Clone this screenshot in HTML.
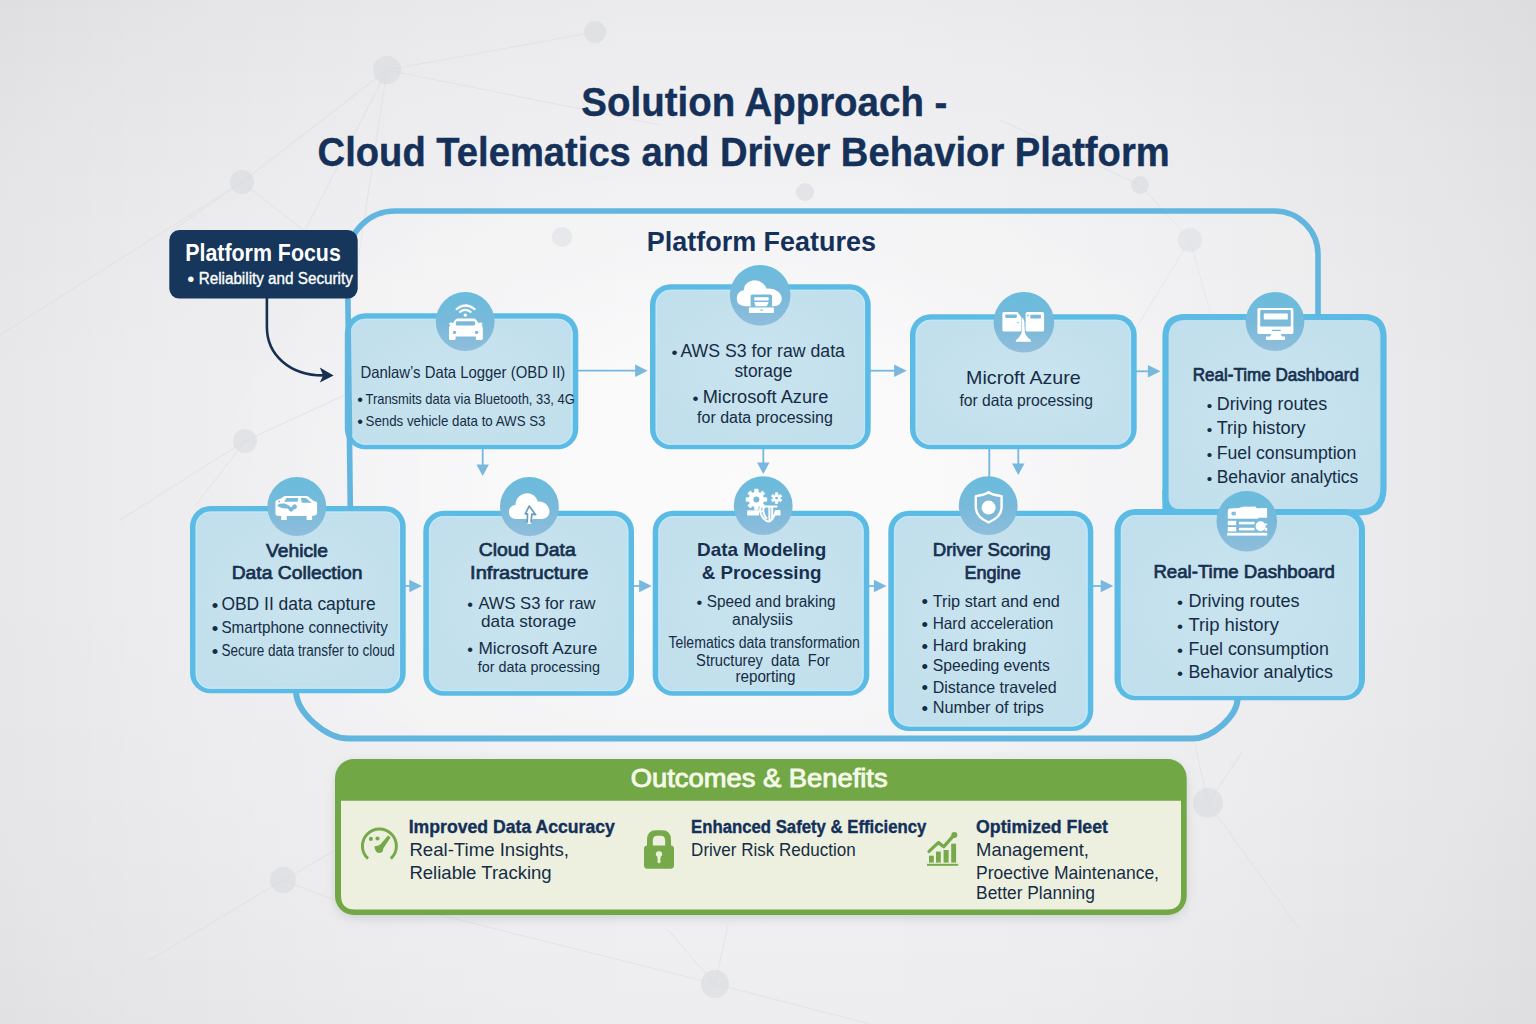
<!DOCTYPE html>
<html lang="en">
<head>
<meta charset="utf-8">
<title>Solution Approach - Cloud Telematics and Driver Behavior Platform</title>
<style>
html,body{margin:0;padding:0;background:#eceef0;}
body{width:1536px;height:1024px;overflow:hidden;position:relative;}
svg{position:absolute;left:0;top:0;display:block;}
text{font-family:"Liberation Sans",sans-serif;}
</style>
</head>
<body>
<svg width="1536" height="1024" viewBox="0 0 1536 1024">
<defs>
<linearGradient id="bgh" x1="0" y1="0" x2="1" y2="0"><stop offset="0.000" stop-color="#000" stop-opacity="0.0500"/><stop offset="0.042" stop-color="#000" stop-opacity="0.0420"/><stop offset="0.083" stop-color="#000" stop-opacity="0.0347"/><stop offset="0.125" stop-color="#000" stop-opacity="0.0281"/><stop offset="0.167" stop-color="#000" stop-opacity="0.0222"/><stop offset="0.208" stop-color="#000" stop-opacity="0.0170"/><stop offset="0.250" stop-color="#000" stop-opacity="0.0125"/><stop offset="0.292" stop-color="#000" stop-opacity="0.0087"/><stop offset="0.333" stop-color="#000" stop-opacity="0.0056"/><stop offset="0.375" stop-color="#000" stop-opacity="0.0031"/><stop offset="0.417" stop-color="#000" stop-opacity="0.0014"/><stop offset="0.458" stop-color="#000" stop-opacity="0.0003"/><stop offset="0.500" stop-color="#000" stop-opacity="0.0000"/><stop offset="0.542" stop-color="#000" stop-opacity="0.0004"/><stop offset="0.583" stop-color="#000" stop-opacity="0.0017"/><stop offset="0.625" stop-color="#000" stop-opacity="0.0039"/><stop offset="0.667" stop-color="#000" stop-opacity="0.0069"/><stop offset="0.708" stop-color="#000" stop-opacity="0.0108"/><stop offset="0.750" stop-color="#000" stop-opacity="0.0155"/><stop offset="0.792" stop-color="#000" stop-opacity="0.0211"/><stop offset="0.833" stop-color="#000" stop-opacity="0.0276"/><stop offset="0.875" stop-color="#000" stop-opacity="0.0349"/><stop offset="0.917" stop-color="#000" stop-opacity="0.0431"/><stop offset="0.958" stop-color="#000" stop-opacity="0.0521"/><stop offset="1.000" stop-color="#000" stop-opacity="0.0620"/></linearGradient>
<linearGradient id="bgv" x1="0" y1="0" x2="0" y2="1"><stop offset="0.000" stop-color="#000" stop-opacity="0.0380"/><stop offset="0.042" stop-color="#000" stop-opacity="0.0314"/><stop offset="0.083" stop-color="#000" stop-opacity="0.0255"/><stop offset="0.125" stop-color="#000" stop-opacity="0.0201"/><stop offset="0.167" stop-color="#000" stop-opacity="0.0154"/><stop offset="0.208" stop-color="#000" stop-opacity="0.0113"/><stop offset="0.250" stop-color="#000" stop-opacity="0.0079"/><stop offset="0.292" stop-color="#000" stop-opacity="0.0050"/><stop offset="0.333" stop-color="#000" stop-opacity="0.0028"/><stop offset="0.375" stop-color="#000" stop-opacity="0.0013"/><stop offset="0.417" stop-color="#000" stop-opacity="0.0003"/><stop offset="0.458" stop-color="#000" stop-opacity="0.0000"/><stop offset="0.500" stop-color="#000" stop-opacity="0.0002"/><stop offset="0.542" stop-color="#000" stop-opacity="0.0007"/><stop offset="0.583" stop-color="#000" stop-opacity="0.0016"/><stop offset="0.625" stop-color="#000" stop-opacity="0.0028"/><stop offset="0.667" stop-color="#000" stop-opacity="0.0044"/><stop offset="0.708" stop-color="#000" stop-opacity="0.0064"/><stop offset="0.750" stop-color="#000" stop-opacity="0.0087"/><stop offset="0.792" stop-color="#000" stop-opacity="0.0113"/><stop offset="0.833" stop-color="#000" stop-opacity="0.0144"/><stop offset="0.875" stop-color="#000" stop-opacity="0.0177"/><stop offset="0.917" stop-color="#000" stop-opacity="0.0215"/><stop offset="0.958" stop-color="#000" stop-opacity="0.0256"/><stop offset="1.000" stop-color="#000" stop-opacity="0.0300"/></linearGradient>
<radialGradient id="glow" cx="0.5" cy="0.5" r="0.5"><stop offset="0" stop-color="#fff" stop-opacity="0.6"/><stop offset="0.4" stop-color="#fff" stop-opacity="0.42"/><stop offset="0.75" stop-color="#fff" stop-opacity="0.12"/><stop offset="1" stop-color="#fff" stop-opacity="0"/></radialGradient>
<radialGradient id="boxfill" cx="50%" cy="50%" r="75%">
<stop offset="0" stop-color="#c9e4ef"/><stop offset="1" stop-color="#bfdeeb"/>
</radialGradient>
<linearGradient id="circ" x1="0" y1="0" x2="0" y2="1">
<stop offset="0" stop-color="#69bcdd"/><stop offset="0.55" stop-color="#7ab9da"/><stop offset="1" stop-color="#8fbedb"/>
</linearGradient>
<linearGradient id="redge" x1="0" y1="0" x2="1" y2="0"><stop offset="0" stop-color="#000" stop-opacity="0"/><stop offset="1" stop-color="#000" stop-opacity="0.018"/></linearGradient>
<filter id="blur6" x="-20%" y="-20%" width="140%" height="140%"><feGaussianBlur stdDeviation="6"/></filter>
<filter id="blur30" x="-20%" y="-20%" width="140%" height="140%"><feGaussianBlur stdDeviation="30"/></filter>
</defs>
<rect width="1536" height="1024" fill="#f4f4f6"/>
<rect width="1536" height="1024" fill="url(#bgh)"/>
<rect width="1536" height="1024" fill="url(#bgv)"/>
<ellipse cx="730" cy="485" rx="540" ry="340" fill="url(#glow)"/>

<g stroke="#dcdee2" stroke-width="1.1" fill="none" opacity="0.6">
<path d="M387,70 L595,32"/>
<path d="M387,70 L242,182"/>
<path d="M387,70 L300,240"/>
<path d="M387,70 L352,300"/>
<path d="M387,70 L660,125"/>
<path d="M242,182 L0,335"/>
<path d="M242,182 L335,255"/>
<path d="M242,182 L170,232"/>
<path d="M245,441 L345,395"/>
<path d="M245,441 L196,505"/>
<path d="M245,441 L120,520"/>
<path d="M283,880 L336,850"/>
<path d="M283,880 L340,902"/>
<path d="M283,880 L150,960"/>
<path d="M715,984 L440,915"/>
<path d="M715,984 L728,925"/>
<path d="M715,984 L668,930"/>
<path d="M715,984 L870,1024"/>
<path d="M1208,803 L1195,745"/>
<path d="M1208,803 L1242,752"/>
<path d="M1208,803 L1300,930"/>
<path d="M1190,240 L1135,330"/>
<path d="M1190,240 L1215,330"/>
<path d="M1190,240 L1140,185"/>
<path d="M1140,185 L1000,120"/>
</g>
<g fill="#d9dbdf">
<circle cx="387" cy="70" r="14" opacity="0.6"/>
<circle cx="595" cy="32" r="11" opacity="0.6"/>
<circle cx="242" cy="182" r="12" opacity="0.6"/>
<circle cx="245" cy="441" r="12" opacity="0.6"/>
<circle cx="283" cy="880" r="13" opacity="0.6"/>
<circle cx="715" cy="984" r="14" opacity="0.6"/>
<circle cx="1208" cy="803" r="15" opacity="0.6"/>
<circle cx="1190" cy="240" r="12" opacity="0.6"/>
<circle cx="1140" cy="185" r="9" opacity="0.6"/>
<circle cx="562" cy="237" r="10" opacity="0.6"/>
<circle cx="805" cy="192" r="9" opacity="0.6"/>
</g>
<path d="M350,252 Q350,211 391,211 H1273 Q1318,211 1318,256 V600 H1237 V697 Q1237,738.5 1185,738.5 H349 Q297,738.5 297,690 H350 Z" fill="#ffffff" opacity="0.15"/>
<path d="M578.0,370.7 H636.1" stroke="#78b8de" stroke-width="1.8" fill="none"/>
<path d="M647.7,370.7 L635.1,364.4 L635.1,377.0 Z" fill="#78b8de"/>
<path d="M870.0,370.7 H895.1" stroke="#78b8de" stroke-width="1.8" fill="none"/>
<path d="M906.7,370.7 L894.1,364.4 L894.1,377.0 Z" fill="#78b8de"/>
<path d="M1135.0,371.3 H1148.9" stroke="#78b8de" stroke-width="1.8" fill="none"/>
<path d="M1160.5,371.3 L1147.9,365.0 L1147.9,377.6 Z" fill="#78b8de"/>
<path d="M482.7,448.0 V465.5" stroke="#78b8de" stroke-width="1.8" fill="none"/>
<path d="M482.7,476.0 L476.5,464.5 L488.9,464.5 Z" fill="#78b8de"/>
<path d="M763.3,448.0 V463.5" stroke="#78b8de" stroke-width="1.8" fill="none"/>
<path d="M763.3,474.0 L757.1,462.5 L769.5,462.5 Z" fill="#78b8de"/>
<path d="M1018.3,448.0 V464.5" stroke="#78b8de" stroke-width="1.8" fill="none"/>
<path d="M1018.3,475.0 L1012.1,463.5 L1024.5,463.5 Z" fill="#78b8de"/>
<path d="M989.3,448 V480" stroke="#78b8de" stroke-width="1.9" fill="none"/>
<path d="M405.0,586.0 H410.3" stroke="#78b8de" stroke-width="1.8" fill="none"/>
<path d="M421.9,586.0 L409.3,579.7 L409.3,592.3 Z" fill="#78b8de"/>
<path d="M633.0,586.0 H640.1" stroke="#78b8de" stroke-width="1.8" fill="none"/>
<path d="M651.7,586.0 L639.1,579.7 L639.1,592.3 Z" fill="#78b8de"/>
<path d="M868.0,586.0 H874.9" stroke="#78b8de" stroke-width="1.8" fill="none"/>
<path d="M886.5,586.0 L873.9,579.7 L873.9,592.3 Z" fill="#78b8de"/>
<path d="M1092.0,586.0 H1101.7" stroke="#78b8de" stroke-width="1.8" fill="none"/>
<path d="M1113.3,586.0 L1100.7,579.7 L1100.7,592.3 Z" fill="#78b8de"/>
<rect x="344.8" y="313.3" width="233.5" height="136.0" rx="20.5" fill="#5cbbe4"/>
<rect x="350.5" y="318.8" width="222.1" height="125.9" rx="15.0" fill="url(#boxfill)"/>
<rect x="351.1" y="319.4" width="220.9" height="124.7" rx="14.4" fill="none" stroke="#c0eafa" stroke-width="1.4" opacity="0.85"/>
<rect x="650.0" y="284.3" width="220.7" height="165.0" rx="20.5" fill="#5cbbe4"/>
<rect x="655.7" y="289.8" width="209.3" height="154.9" rx="15.0" fill="url(#boxfill)"/>
<rect x="656.3" y="290.4" width="208.1" height="153.7" rx="14.4" fill="none" stroke="#c0eafa" stroke-width="1.4" opacity="0.85"/>
<rect x="910.0" y="314.3" width="226.7" height="135.0" rx="20.5" fill="#5cbbe4"/>
<rect x="915.7" y="319.8" width="215.3" height="124.9" rx="15.0" fill="url(#boxfill)"/>
<rect x="916.3" y="320.4" width="214.1" height="123.7" rx="14.4" fill="none" stroke="#c0eafa" stroke-width="1.4" opacity="0.85"/>
<rect x="1162.4" y="490" width="20" height="24.8" fill="#5cbbe4"/>
<path d="M1165.5,495 V337 Q1165.5,317 1185.5,317 H1363.5 Q1383.5,317 1383.5,337 V488 Q1383.5,512.3 1359,512.3 H1180.5 Q1165.5,512.3 1165.5,497 Z" fill="url(#boxfill)" stroke="#5cbbe4" stroke-width="6.2"/>
<rect x="190.0" y="506.0" width="215.7" height="187.3" rx="20.5" fill="#5cbbe4"/>
<rect x="195.7" y="511.5" width="204.3" height="177.2" rx="15.0" fill="url(#boxfill)"/>
<rect x="196.3" y="512.1" width="203.1" height="176.0" rx="14.4" fill="none" stroke="#c0eafa" stroke-width="1.4" opacity="0.85"/>
<rect x="423.3" y="510.7" width="210.7" height="185.0" rx="20.5" fill="#5cbbe4"/>
<rect x="429.0" y="516.2" width="199.3" height="174.9" rx="15.0" fill="url(#boxfill)"/>
<rect x="429.6" y="516.8" width="198.1" height="173.7" rx="14.4" fill="none" stroke="#c0eafa" stroke-width="1.4" opacity="0.85"/>
<rect x="652.7" y="510.7" width="216.6" height="185.0" rx="20.5" fill="#5cbbe4"/>
<rect x="658.4" y="516.2" width="205.2" height="174.9" rx="15.0" fill="url(#boxfill)"/>
<rect x="659.0" y="516.8" width="204.0" height="173.7" rx="14.4" fill="none" stroke="#c0eafa" stroke-width="1.4" opacity="0.85"/>
<rect x="888.3" y="510.7" width="205.0" height="220.3" rx="20.5" fill="#5cbbe4"/>
<rect x="894.0" y="516.2" width="193.6" height="210.2" rx="15.0" fill="url(#boxfill)"/>
<rect x="894.6" y="516.8" width="192.4" height="209.0" rx="14.4" fill="none" stroke="#c0eafa" stroke-width="1.4" opacity="0.85"/>
<rect x="1114.5" y="509.0" width="250.5" height="191.3" rx="21.0" fill="#5cbbe4"/>
<rect x="1120.9" y="515.2" width="237.7" height="180.5" rx="14.8" fill="url(#boxfill)"/>
<rect x="1121.5" y="515.8" width="236.5" height="179.3" rx="14.2" fill="none" stroke="#c0eafa" stroke-width="1.4" opacity="0.85"/>
<path d="M350.3,509 L347.9,300 V258 A47,47 0 0 1 394.9,211 H1274.5 A43.5,43.5 0 0 1 1318,254.5 V317" fill="none" stroke="#62b5df" stroke-width="5.6"/>
<path d="M296,690.5 C296.0,712.1 325.1,738.6 349.0,738.6 H1192 C1212.6,738.6 1237.7,716.0 1237.7,697.5" fill="none" stroke="#62b5df" stroke-width="6"/>
<circle cx="465.2" cy="321.5" r="29.4" fill="url(#circ)"/>
<circle cx="760.2" cy="295.2" r="30.3" fill="url(#circ)"/>
<circle cx="1023.9" cy="322.2" r="30.3" fill="url(#circ)"/>
<circle cx="1275.0" cy="321.5" r="29.4" fill="url(#circ)"/>
<circle cx="296.8" cy="506.5" r="29.4" fill="url(#circ)"/>
<circle cx="529.4" cy="506.5" r="29.4" fill="url(#circ)"/>
<circle cx="763.2" cy="505.7" r="29.4" fill="url(#circ)"/>
<circle cx="988.2" cy="505.7" r="29.4" fill="url(#circ)"/>
<circle cx="1246.8" cy="521.2" r="30.3" fill="url(#circ)"/>
<g transform="translate(465.2,321.5)"><path d="M-7.5,-2.9 H8.5 Q10.5,-2.9 11.3,-1.2 L13.2,1.6 L15.2,0.9 Q17.4,0.8 17.4,2.4 L16.2,3.6 Q17.6,4.6 17.6,6.5 V17 Q17.6,18.6 16,18.6 H12.2 Q10.6,18.6 10.6,17 V15 H-9.6 V17 Q-9.6,18.6 -11.2,18.6 H-14.6 Q-16.2,18.6 -16.2,17 V6.5 Q-16.2,4.6 -14.8,3.6 L-16.2,2.4 Q-16.4,0.8 -14.2,0.9 L-12.2,1.6 L-10.3,-1.2 Q-9.5,-2.9 -7.5,-2.9 Z" fill="#ffffff"/><rect x="-9.3" y="-0.2" width="19.1" height="4.3" rx="1.3" fill="#7ab9da"/><circle cx="-10.7" cy="10.9" r="1.7" fill="#7ab9da"/><circle cx="11.4" cy="10.9" r="1.7" fill="#7ab9da"/><circle cx="0.1" cy="-6.4" r="1.7" fill="#ffffff"/><path d="M-5.2,-9.6 Q0.1,-13.6 5.4,-9.6" stroke="#ffffff" stroke-width="2.1" fill="none" stroke-linecap="round"/><path d="M-8.6,-12.4 Q0.3,-19.6 9.4,-12.4" stroke="#ffffff" stroke-width="2.2" fill="none" stroke-linecap="round"/></g>
<g transform="translate(296.8,506.5)"><path d="M-21.4,-4.6 Q-21.4,-6 -19.8,-6.6 L-15.5,-8.2 L-12.4,-10.4 H10.6 L16.5,-5.8 L19.2,-5 Q20.3,-4.6 20.3,-3.2 V6.6 Q20.3,8.6 18.3,8.9 L15.3,9.2 V13.6 H9.8 V9.6 H-10.1 V13.6 H-15.6 V9.6 L-19.6,9.2 Q-21.4,8.8 -21.4,7 Z" fill="#ffffff"/><path d="M-12.8,-4.7 L-10.3,-8.4 H1.6 L0.8,-4.7 Z" fill="#7ab9da"/><path d="M4,-8.4 H9 L14.9,-3.8 H5.1 Z" fill="#7ab9da"/><circle cx="-17.6" cy="-5" r="0.9" fill="#7ab9da"/><path d="M-19.2,-1.6 Q-17,-3.4 -12,-2.9 Q-8,-1.6 -5.5,1 Q-3.5,-3 -1,-2 Q1,-0.5 -0.5,2 Q-3,2.5 -5,5 Q-6,6 -7.5,4 L-9,2 Q-16,2.5 -19.2,-0.4 Z" fill="#7ab9da"/></g>
<g transform="translate(529.4,506.5)"><path d="M-13,12.5 Q-20.5,12.5 -20.5,5.5 Q-20.5,-0.5 -14,-1.5 Q-13.5,-9 -7.5,-12 Q-1,-15 4.5,-11 Q7.5,-8.5 8.5,-5 Q14,-5.5 17.5,-1.5 Q20.5,2 20,6 Q19,12.5 12,12.5 Z" fill="#ffffff"/><path d="M-2.6,12.4 H3.2 L1.6,17.4 H-1.9 Z" fill="#ffffff"/><path d="M-4.1,7.4 L-0.2,-0.4 L6.2,8.2 M-4.1,7.4 H-1.9 L-2.1,15.5 M6.2,8.2 L2.4,7.6 L1.7,15.5" stroke="#6a9dbc" stroke-width="1.7" fill="none" stroke-linejoin="round" stroke-linecap="round"/></g>
<g transform="translate(760.2,295.2)"><path d="M-15,11 Q-23.5,10.5 -23.5,3 Q-23.5,-3.5 -16.5,-5 Q-16,-11.5 -10,-14 Q-3,-16.5 2.5,-12 Q5.5,-9.5 6.5,-6.5 Q13,-7.5 18,-3.5 Q22,0 21.5,4.5 Q20.5,10.5 13.5,11 Z" fill="#ffffff"/><rect x="-9.6" y="-0.8" width="21.5" height="12.5" rx="1.6" fill="#7ab9da"/><rect x="-6" y="2" width="14.5" height="3.2" rx="0.6" fill="#ffffff"/><path d="M-6,6.8 H8.5 L6.5,11 H-4.5 Z" fill="#ffffff"/><rect x="-11.3" y="12.2" width="25" height="5.5" rx="0.6" fill="#ffffff"/><rect x="0" y="14.3" width="2.6" height="1.2" rx="0.6" fill="#7ab9da"/></g>
<g transform="translate(1023.9,322.2)"><path d="M-21.5,-8.5 Q-21.5,-10.2 -19.8,-10.2 H-6.5 L-2.8,-5.5 V7.8 Q-2.8,9.4 -4.4,9.4 H-19.8 Q-21.5,9.4 -21.5,7.8 Z" fill="#ffffff"/><path d="M1.7,-8.5 Q1.7,-10.2 3.4,-10.2 H18.5 Q20.2,-10.2 20.2,-8.5 V7.8 Q20.2,9.4 18.5,9.4 H3.4 Q1.7,9.4 1.7,7.8 Z" fill="#ffffff"/><rect x="-18.6" y="-7.8" width="11.5" height="3.6" rx="0.9" fill="#7ab9da"/><rect x="6.4" y="-7.4" width="10.6" height="3.8" rx="0.9" fill="#7ab9da"/><circle cx="4" cy="-6.6" r="0.9" fill="#7ab9da"/><circle cx="-6" cy="0.4" r="0.8" fill="#7ab9da"/><path d="M-2.4,-5 Q0.2,-4 0.4,-1 L0.9,9.6 Q1.6,14 6.6,17.6 L7.3,19.6 H-8.3 L-7.6,17.6 Q-3,14 -2.2,9.6 Z" fill="#ffffff"/></g>
<g transform="translate(1275.0,321.5)"><rect x="-17.6" y="-13.4" width="36" height="26" rx="1.6" fill="#ffffff"/><rect x="-14.8" y="-11.4" width="30.6" height="16.4" rx="0.8" fill="#7ab9da"/><rect x="-11.2" y="-7.9" width="24" height="5.8" rx="0.5" fill="#ffffff"/><rect x="-3.2" y="8.2" width="9" height="1.4" rx="0.6" fill="#7ab9da"/><path d="M-3.5,12 H5.5 L7,15 H10 V18.6 H-9 V15 H-5 Z" fill="#ffffff"/></g>
<g transform="translate(763.2,505.7)"><path d="M-8.6,-13.4 L-8.5,-16.5 L-5.1,-16.5 L-5.0,-13.4 L-3.0,-12.5 L-0.8,-14.7 L1.7,-12.2 L-0.5,-10.0 L0.4,-8.0 L3.5,-7.9 L3.5,-4.5 L0.4,-4.4 L-0.5,-2.4 L1.7,-0.2 L-0.8,2.3 L-3.0,0.1 L-5.0,1.0 L-5.1,4.1 L-8.5,4.1 L-8.6,1.0 L-10.6,0.1 L-12.8,2.3 L-15.3,-0.2 L-13.1,-2.4 L-14.0,-4.4 L-17.1,-4.5 L-17.1,-7.9 L-14.0,-8.0 L-13.1,-10.0 L-15.3,-12.2 L-12.8,-14.7 L-10.6,-12.5 Z" fill="#ffffff" stroke="#ffffff" stroke-width="0.8" stroke-linejoin="round"/><circle cx="-6.8" cy="-6.2" r="3.0" fill="#7ab9da"/><path d="M12.3,-10.9 L12.2,-12.9 L14.6,-12.9 L14.5,-10.9 L15.7,-10.2 L17.4,-11.3 L18.6,-9.2 L16.8,-8.3 L16.8,-6.9 L18.6,-6.0 L17.4,-3.9 L15.7,-5.0 L14.5,-4.3 L14.6,-2.3 L12.2,-2.3 L12.3,-4.3 L11.1,-5.0 L9.4,-3.9 L8.2,-6.0 L10.0,-6.9 L10.0,-8.3 L8.2,-9.2 L9.4,-11.3 L11.1,-10.2 Z" fill="#ffffff" stroke="#ffffff" stroke-width="0.8" stroke-linejoin="round"/><circle cx="13.4" cy="-7.6" r="1.4" fill="#7ab9da"/><rect x="-16" y="4.6" width="11.8" height="5.2" fill="#ffffff"/><path d="M-4,5.5 H0" stroke="#ffffff" stroke-width="1.6"/><path d="M-2.5,1 Q-4.5,8 1,13.5 Q5.5,18.5 9.5,13 Q12,9 12.5,5.2 H16.5 M13.5,0.8 H3 Q-0.5,1 0.2,6 Q1,10 3.2,12.6 M6.2,1 V14 M9,1 V12.6" stroke="#ffffff" stroke-width="2" fill="none" stroke-linecap="round" stroke-linejoin="round"/><path d="M12,6.2 H17.3 V9.8 H11 Z" fill="#ffffff"/></g>
<g transform="translate(988.2,505.7)"><path d="M0.4,-13.6 Q2.5,-11.2 13.4,-9.6 V2 Q13,11.5 0.4,16.6 Q-12,11.5 -12.4,2 V-9.6 Q-2,-11.2 0.4,-13.6 Z" fill="#7fb9d9" stroke="#ffffff" stroke-width="2.4" stroke-linejoin="round"/><circle cx="0.4" cy="1.9" r="7" fill="#ffffff"/></g>
<g transform="translate(1246.8,521.2)"><path d="M-19,-10.5 Q-19,-12.6 -17,-12.8 L-8,-13.2 Q-4,-15.5 2,-14.5 L8.5,-14.6 L10,-13 L20.3,-13.2 V-3.5 L12,-3.4 L11,-2.4 H-19 Z" fill="#ffffff"/><path d="M-11,-8.6 H-14 Q-15.5,-7.8 -14,-6.7 H-11" stroke="#7ab9da" stroke-width="1.6" fill="none"/><rect x="-19" y="-0.4" width="8.4" height="4.4" fill="#ffffff"/><rect x="-19" y="5.8" width="8.4" height="4.4" fill="#ffffff"/><rect x="-7.8" y="0.6" width="15.6" height="2.6" fill="#ffffff"/><rect x="-7.8" y="6.6" width="15.6" height="2.6" fill="#ffffff"/><circle cx="13.8" cy="5" r="5" fill="#ffffff"/><rect x="18" y="2.4" width="2.4" height="1.6" fill="#ffffff"/><rect x="18" y="6.6" width="2.4" height="3" fill="#ffffff"/><rect x="-19.6" y="11.6" width="40" height="2.8" fill="#ffffff"/></g>
<rect x="169.3" y="230" width="188.4" height="68.6" rx="10" fill="#16365b"/>
<path d="M266.9,297 V327 C266.9,355 290,375.4 323,375.4" fill="none" stroke="#162f52" stroke-width="2.6"/>
<path d="M333.6,375.4 L319.8,367.4 L323.2,375.4 L319.8,382.6 Z" fill="#162f52"/>
<text x="185.2" y="260.7" font-size="23" font-weight="bold" fill="#ffffff" textLength="155.6" lengthAdjust="spacingAndGlyphs">Platform Focus</text>
<text x="187.2" y="286.3" font-size="20.2" fill="#ffffff">•</text>
<text x="198.7" y="284.0" font-size="16" font-weight="normal" fill="#ffffff" textLength="154.1" lengthAdjust="spacingAndGlyphs" stroke="#ffffff" stroke-width="0.35">Reliability and Security</text>
<text x="581.3" y="115.7" font-size="40" font-weight="bold" fill="#15315a" textLength="366.1" lengthAdjust="spacingAndGlyphs" stroke="#15315a" stroke-width="0.4">Solution Approach -</text>
<text x="317.6" y="165.7" font-size="40" font-weight="bold" fill="#15315a" textLength="852.1" lengthAdjust="spacingAndGlyphs" stroke="#15315a" stroke-width="0.4">Cloud Telematics and Driver Behavior Platform</text>
<text x="646.8" y="251.0" font-size="27" font-weight="bold" fill="#15315a" textLength="229.2" lengthAdjust="spacingAndGlyphs">Platform Features</text>
<text x="360.4" y="377.7" font-size="16.5" font-weight="normal" fill="#162c45" textLength="204.9" lengthAdjust="spacingAndGlyphs">Danlaw’s Data Logger (OBD II)</text>
<text x="357.2" y="405.1" font-size="16.3" fill="#162c45">•</text>
<text x="365.5" y="404.3" font-size="15" font-weight="normal" fill="#162c45" textLength="209.3" lengthAdjust="spacingAndGlyphs">Transmits data via Bluetooth, 33, 4G</text>
<text x="357.2" y="426.8" font-size="16.3" fill="#162c45">•</text>
<text x="365.5" y="426.0" font-size="15" font-weight="normal" fill="#162c45" textLength="180.0" lengthAdjust="spacingAndGlyphs">Sends vehicle data to AWS S3</text>
<text x="671.4" y="357.8" font-size="17.1" fill="#162c45">•</text>
<text x="680.4" y="356.7" font-size="17.5" font-weight="normal" fill="#162c45" textLength="164.5" lengthAdjust="spacingAndGlyphs">AWS S3 for raw data</text>
<text x="734.4" y="376.7" font-size="17.5" font-weight="normal" fill="#162c45" textLength="57.9" lengthAdjust="spacingAndGlyphs">storage</text>
<text x="692.4" y="404.1" font-size="17.1" fill="#162c45">•</text>
<text x="702.7" y="403.0" font-size="17.5" font-weight="normal" fill="#162c45" textLength="125.6" lengthAdjust="spacingAndGlyphs">Microsoft Azure</text>
<text x="697.1" y="422.7" font-size="16" font-weight="normal" fill="#162c45" textLength="135.7" lengthAdjust="spacingAndGlyphs">for data processing</text>
<text x="966.1" y="384.0" font-size="18.5" font-weight="normal" fill="#162c45" textLength="114.6" lengthAdjust="spacingAndGlyphs">Microft Azure</text>
<text x="959.4" y="405.7" font-size="16.5" font-weight="normal" fill="#162c45" textLength="133.5" lengthAdjust="spacingAndGlyphs">for data processing</text>
<text x="1192.7" y="381.0" font-size="17.5" font-weight="normal" fill="#17304f" textLength="166.2" lengthAdjust="spacingAndGlyphs" stroke="#17304f" stroke-width="0.7">Real-Time Dashboard</text>
<text x="1206.7" y="410.5" font-size="15.5" fill="#162c45">•</text>
<text x="1216.7" y="410.0" font-size="17.5" font-weight="normal" fill="#162c45" textLength="110.6" lengthAdjust="spacingAndGlyphs">Driving routes</text>
<text x="1206.7" y="434.8" font-size="15.5" fill="#162c45">•</text>
<text x="1216.7" y="434.3" font-size="17.5" font-weight="normal" fill="#162c45" textLength="88.9" lengthAdjust="spacingAndGlyphs">Trip history</text>
<text x="1206.7" y="459.8" font-size="15.5" fill="#162c45">•</text>
<text x="1216.7" y="459.3" font-size="17.5" font-weight="normal" fill="#162c45" textLength="139.6" lengthAdjust="spacingAndGlyphs">Fuel consumption</text>
<text x="1206.7" y="483.8" font-size="15.5" fill="#162c45">•</text>
<text x="1216.7" y="483.3" font-size="17.5" font-weight="normal" fill="#162c45" textLength="141.6" lengthAdjust="spacingAndGlyphs">Behavior analytics</text>
<text x="266.1" y="556.7" font-size="18.5" font-weight="normal" fill="#17304f" textLength="61.9" lengthAdjust="spacingAndGlyphs" stroke="#17304f" stroke-width="0.7">Vehicle</text>
<text x="231.7" y="579.3" font-size="18.5" font-weight="normal" fill="#17304f" textLength="130.7" lengthAdjust="spacingAndGlyphs" stroke="#17304f" stroke-width="0.7">Data Collection</text>
<text x="211.7" y="611.7" font-size="18.6" fill="#162c45">•</text>
<text x="221.4" y="610.0" font-size="17.5" font-weight="normal" fill="#162c45" textLength="154.2" lengthAdjust="spacingAndGlyphs">OBD II data capture</text>
<text x="211.7" y="635.0" font-size="18.6" fill="#162c45">•</text>
<text x="221.4" y="633.3" font-size="17" font-weight="normal" fill="#162c45" textLength="166.5" lengthAdjust="spacingAndGlyphs">Smartphone connectivity</text>
<text x="211.7" y="657.7" font-size="18.6" fill="#162c45">•</text>
<text x="221.4" y="656.0" font-size="16" font-weight="normal" fill="#162c45" textLength="173.4" lengthAdjust="spacingAndGlyphs">Secure data transfer to cloud</text>
<text x="478.7" y="556.0" font-size="18.5" font-weight="normal" fill="#17304f" textLength="97.0" lengthAdjust="spacingAndGlyphs" stroke="#17304f" stroke-width="0.7">Cloud Data</text>
<text x="470.1" y="579.3" font-size="18.5" font-weight="normal" fill="#17304f" textLength="118.3" lengthAdjust="spacingAndGlyphs" stroke="#17304f" stroke-width="0.7">Infrastructure</text>
<text x="467.2" y="609.8" font-size="16.3" fill="#162c45">•</text>
<text x="478.4" y="609.0" font-size="17" font-weight="normal" fill="#162c45" textLength="117.2" lengthAdjust="spacingAndGlyphs">AWS S3 for raw</text>
<text x="481.1" y="626.7" font-size="17" font-weight="normal" fill="#162c45" textLength="95.2" lengthAdjust="spacingAndGlyphs">data storage</text>
<text x="467.2" y="655.1" font-size="16.3" fill="#162c45">•</text>
<text x="478.4" y="654.3" font-size="17" font-weight="normal" fill="#162c45" textLength="118.9" lengthAdjust="spacingAndGlyphs">Microsoft Azure</text>
<text x="477.8" y="671.7" font-size="15.5" font-weight="normal" fill="#162c45" textLength="122.1" lengthAdjust="spacingAndGlyphs">for data processing</text>
<text x="697.1" y="556.0" font-size="18.5" font-weight="bold" fill="#17304f" textLength="129.3" lengthAdjust="spacingAndGlyphs">Data Modeling</text>
<text x="701.7" y="579.0" font-size="18.5" font-weight="bold" fill="#17304f" textLength="119.7" lengthAdjust="spacingAndGlyphs">&amp; Processing</text>
<text x="696.4" y="607.5" font-size="16.3" fill="#162c45">•</text>
<text x="706.7" y="606.7" font-size="16" font-weight="normal" fill="#162c45" textLength="128.8" lengthAdjust="spacingAndGlyphs">Speed and braking</text>
<text x="732.1" y="625.0" font-size="16" font-weight="normal" fill="#162c45" textLength="60.7" lengthAdjust="spacingAndGlyphs">analysiis</text>
<text x="668.4" y="647.7" font-size="16" font-weight="normal" fill="#162c45" textLength="191.4" lengthAdjust="spacingAndGlyphs">Telematics data transformation</text>
<text x="696.1" y="666.0" font-size="16" font-weight="normal" fill="#162c45" textLength="133.7" lengthAdjust="spacingAndGlyphs" xml:space="preserve">Structurey  data  For</text>
<text x="735.4" y="681.7" font-size="16" font-weight="normal" fill="#162c45" textLength="60.1" lengthAdjust="spacingAndGlyphs">reporting</text>
<text x="932.7" y="556.0" font-size="18.5" font-weight="normal" fill="#17304f" textLength="118.0" lengthAdjust="spacingAndGlyphs" stroke="#17304f" stroke-width="0.7">Driver Scoring</text>
<text x="964.4" y="579.0" font-size="18.5" font-weight="normal" fill="#17304f" textLength="56.3" lengthAdjust="spacingAndGlyphs" stroke="#17304f" stroke-width="0.7">Engine</text>
<text x="921.4" y="608.4" font-size="18.6" fill="#162c45">•</text>
<text x="932.7" y="606.7" font-size="16.5" font-weight="normal" fill="#162c45" textLength="127.2" lengthAdjust="spacingAndGlyphs">Trip start and end</text>
<text x="921.4" y="631.0" font-size="18.6" fill="#162c45">•</text>
<text x="932.7" y="629.3" font-size="16.5" font-weight="normal" fill="#162c45" textLength="120.6" lengthAdjust="spacingAndGlyphs">Hard acceleration</text>
<text x="921.4" y="652.7" font-size="18.6" fill="#162c45">•</text>
<text x="932.7" y="651.0" font-size="16.5" font-weight="normal" fill="#162c45" textLength="93.6" lengthAdjust="spacingAndGlyphs">Hard braking</text>
<text x="921.4" y="672.7" font-size="18.6" fill="#162c45">•</text>
<text x="932.7" y="671.0" font-size="16.5" font-weight="normal" fill="#162c45" textLength="117.2" lengthAdjust="spacingAndGlyphs">Speeding events</text>
<text x="921.4" y="694.4" font-size="18.6" fill="#162c45">•</text>
<text x="932.7" y="692.7" font-size="16.5" font-weight="normal" fill="#162c45" textLength="123.9" lengthAdjust="spacingAndGlyphs">Distance traveled</text>
<text x="921.4" y="715.0" font-size="18.6" fill="#162c45">•</text>
<text x="932.7" y="713.3" font-size="16.5" font-weight="normal" fill="#162c45" textLength="111.2" lengthAdjust="spacingAndGlyphs">Number of trips</text>
<text x="1153.4" y="577.7" font-size="18.5" font-weight="normal" fill="#17304f" textLength="181.6" lengthAdjust="spacingAndGlyphs" stroke="#17304f" stroke-width="0.7">Real-Time Dashboard</text>
<text x="1177.0" y="608.4" font-size="17.1" fill="#162c45">•</text>
<text x="1188.4" y="607.3" font-size="17.5" font-weight="normal" fill="#162c45" textLength="111.2" lengthAdjust="spacingAndGlyphs">Driving routes</text>
<text x="1177.0" y="632.1" font-size="17.1" fill="#162c45">•</text>
<text x="1188.4" y="631.0" font-size="17.5" font-weight="normal" fill="#162c45" textLength="90.5" lengthAdjust="spacingAndGlyphs">Trip history</text>
<text x="1177.0" y="656.1" font-size="17.1" fill="#162c45">•</text>
<text x="1188.4" y="655.0" font-size="17.5" font-weight="normal" fill="#162c45" textLength="140.5" lengthAdjust="spacingAndGlyphs">Fuel consumption</text>
<text x="1177.0" y="679.4" font-size="17.1" fill="#162c45">•</text>
<text x="1188.4" y="678.3" font-size="17.5" font-weight="normal" fill="#162c45" textLength="144.5" lengthAdjust="spacingAndGlyphs">Behavior analytics</text>
<rect x="337" y="764" width="848" height="153" rx="18" fill="#9aa0a8" opacity="0.45" filter="url(#blur6)"/>
<rect x="335" y="759" width="851.7" height="156" rx="19" fill="#71a745"/>
<path d="M341,800.7 H1181 V895.6 Q1181,909.6 1167,909.6 H355 Q341,909.6 341,895.6 Z" fill="#edf0de"/>
<text x="630.8" y="787.3" font-size="25" font-weight="normal" fill="#f5f9e8" textLength="256.8" lengthAdjust="spacingAndGlyphs" stroke="#f5f9e8" stroke-width="0.9">Outcomes &amp; Benefits</text>
<text x="408.7" y="832.7" font-size="17.5" font-weight="bold" fill="#14305a" textLength="206.2" lengthAdjust="spacingAndGlyphs" stroke="#14305a" stroke-width="0.35">Improved Data Accuracy</text>
<text x="409.4" y="856.0" font-size="18.5" font-weight="normal" fill="#162c45" textLength="159.6" lengthAdjust="spacingAndGlyphs">Real-Time Insights,</text>
<text x="409.4" y="879.3" font-size="18.5" font-weight="normal" fill="#162c45" textLength="142.3" lengthAdjust="spacingAndGlyphs">Reliable Tracking</text>
<text x="691.1" y="832.7" font-size="17.5" font-weight="bold" fill="#14305a" textLength="235.2" lengthAdjust="spacingAndGlyphs" stroke="#14305a" stroke-width="0.35">Enhanced Safety &amp; Efficiency</text>
<text x="691.1" y="856.0" font-size="18.5" font-weight="normal" fill="#162c45" textLength="164.6" lengthAdjust="spacingAndGlyphs">Driver Risk Reduction</text>
<text x="976.1" y="832.7" font-size="17.5" font-weight="bold" fill="#14305a" textLength="131.8" lengthAdjust="spacingAndGlyphs" stroke="#14305a" stroke-width="0.35">Optimized Fleet</text>
<text x="976.1" y="856.0" font-size="18.5" font-weight="normal" fill="#162c45" textLength="112.9" lengthAdjust="spacingAndGlyphs">Management,</text>
<text x="976.1" y="879.3" font-size="18.5" font-weight="normal" fill="#162c45" textLength="182.9" lengthAdjust="spacingAndGlyphs">Proective Maintenance,</text>
<text x="976.1" y="899.0" font-size="17.5" font-weight="normal" fill="#162c45" textLength="118.8" lengthAdjust="spacingAndGlyphs">Better Planning</text>
<g transform="translate(379.4,846.2)" fill="none" stroke="#76a94a"><path d="M-11.4,12.4 A17,17 0 1 1 11.4,12.4" stroke-width="3"/><circle cx="-8.5" cy="-7.3" r="2.1" fill="#76a94a" stroke="none"/><circle cx="-1.9" cy="-7.7" r="2.1" fill="#76a94a" stroke="none"/><path d="M8.6,-10.8 L11.2,-8.7 L3.9,2.2 Q3.8,6.8 -0.6,6.8 Q-4.4,6.2 -5,0 Q-0.5,0.3 1.3,-2.1 Z" fill="#76a94a" stroke="none"/></g>
<g fill="#76a94a"><rect x="644" y="845.5" width="30" height="23.2" rx="3.4"/><path d="M647,847 V840 Q647,830.3 656,830.3 H662 Q671,830.3 671,840 V847 H665.2 V841 Q665.2,835.8 661,835.8 H657 Q652.8,835.8 652.8,841 V847 Z"/></g><path d="M659,851.2 A2.9,2.9 0 0 1 660.8,856.6 L660.2,860 L660.8,862 L659,863.4 L657.2,862 L657.8,860 L657.2,856.6 A2.9,2.9 0 0 1 659,851.2 Z" fill="#e8f3d8"/>
<g fill="#76a94a"><rect x="927" y="863.8" width="31.2" height="2"/><rect x="929" y="855.7" width="4.8" height="6.9"/><rect x="936" y="851.6" width="4.8" height="11"/><rect x="943.6" y="850" width="5" height="12.6"/><rect x="951.2" y="843.7" width="4.9" height="18.9"/><circle cx="954.3" cy="834.9" r="3"/></g><path d="M929,851.4 L938.4,842.6 L943.8,846.7 L954,835.2" fill="none" stroke="#76a94a" stroke-width="3.3" stroke-linecap="round" stroke-linejoin="round"/>
</svg>
</body>
</html>
